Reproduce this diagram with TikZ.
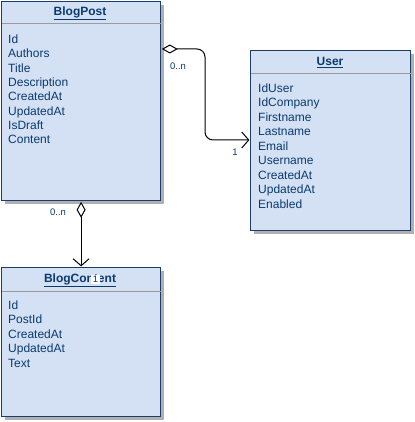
\documentclass[tikz,border=0pt]{standalone}
\usepackage{fontspec}
\setmainfont{Liberation Sans}
\usetikzlibrary{arrows.meta,calc,shadows}
\definecolor{boxfill}{HTML}{D4E1F5}
\definecolor{boxline}{HTML}{1A3D6B}
\definecolor{txt}{HTML}{0B3A6E}
\definecolor{divline}{HTML}{9A9A9A}
\definecolor{shade}{HTML}{B0B0B0}
\tikzset{
  classbox/.style={draw=boxline, line width=1.2pt, fill=boxfill, anchor=north west, inner sep=0pt,
    drop shadow={shadow xshift=3pt, shadow yshift=-3pt, fill=shade, opacity=1}},
  ctitle/.style={font=\fontsize{12}{14}\selectfont\bfseries, text=txt, anchor=base, inner sep=0pt},
  attr/.style={font=\fontsize{12}{14}\selectfont, text=txt, anchor=base west, inner sep=0pt},
  mult/.style={font=\fontsize{9.5}{11}\selectfont, text=txt, inner sep=0pt},
  divider/.style={draw=divline, line width=1pt},
  assoc/.style={draw=black, line width=1pt,
    {Diamond[open,length=16pt,width=9pt,line width=1pt]}-{Straight Barb[length=7pt,width=16pt,line width=1pt]}}
}
\begin{document}
\begin{tikzpicture}[x=1pt,y=-1pt]
\useasboundingbox[fill=white] (0,0) rectangle (414,422);
% BlogPost
\node[classbox, minimum width=159pt, minimum height=199pt] (bp) at (1,1) {};
\draw[divider] ($(bp.north west)+(0.6,23)$) -- ($(bp.north east)+(-0.6,23)$);
\node[ctitle] (bpt) at (80,15.3) {\underline{BlogPost}};
\foreach \t [count=\i from 0] in {Id,Authors,Title,Description,CreatedAt,UpdatedAt,IsDraft,Content}
  \node[attr] (bpa\i) at (8,{43.5+14.35*\i}) {\t};
% User
\node[classbox, minimum width=160pt, minimum height=180pt] (us) at (250,50) {};
\draw[divider] ($(us.north west)+(0.6,24)$) -- ($(us.north east)+(-0.6,24)$);
\node[ctitle] (ust) at (330,65.3) {\underline{User}};
\foreach \t [count=\i from 0] in {IdUser,IdCompany,Firstname,Lastname,Email,Username,CreatedAt,UpdatedAt,Enabled}
  \node[attr] (usa\i) at (258,{92.5+14.45*\i}) {\t};
% BlogContent
\node[classbox, minimum width=159pt, minimum height=149pt] (bc) at (1,267) {};
\draw[divider] ($(bc.north west)+(0.6,24)$) -- ($(bc.north east)+(-0.6,24)$);
\node[ctitle] (bct) at (80,282.3) {\underline{BlogContent}};
\foreach \t [count=\i from 0] in {Id,PostId,CreatedAt,UpdatedAt,Text}
  \node[attr] (bca\i) at (8,{309.5+14.45*\i}) {\t};
% connectors
\coordinate (bpR) at ($(bp.north east)+(0.6,48)$);
\coordinate (usL) at ($(us.north west)+(-0.6,90)$);
\draw[assoc, rounded corners=8pt] (bpR) -- (205,49) -- (205,140) -- (usL);
\coordinate (bpB) at ($(bp.south)+(0,0.6)$);
\coordinate (bcT) at ($(bc.north)+(0,-0.6)$);
\draw[assoc] (bpB) -- (bcT);
% multiplicities
\node[mult] (m1) at (178,66) {0..n};
\node[mult] (m2) at (235,152) {1};
\node[mult] (m3) at (58,212) {0..n};
\node[mult, fill=white, inner sep=1.5pt] (m4) at (95.5,279.5) {1};
\end{tikzpicture}
\end{document}
